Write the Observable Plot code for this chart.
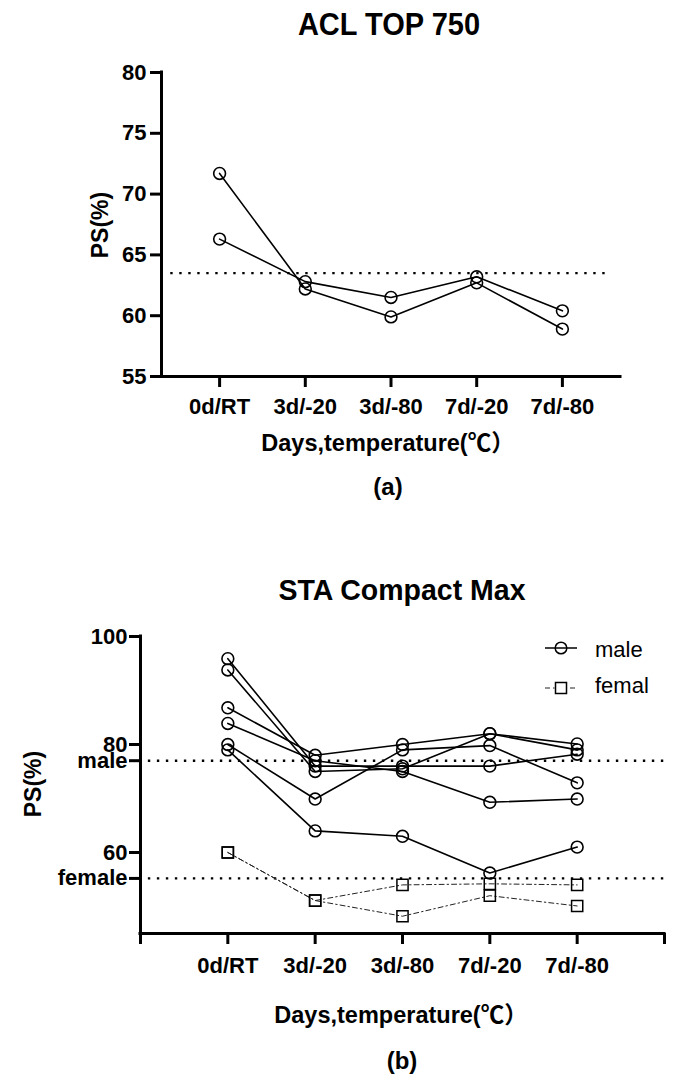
<!DOCTYPE html>
<html><head><meta charset="utf-8">
<script src="https://cdn.jsdelivr.net/npm/d3@7"></script>
<script src="https://cdn.jsdelivr.net/npm/@observablehq/plot@0.6"></script>
<style>
body{margin:0;background:#fff;}
#page{position:relative;width:685px;height:1080px;overflow:hidden;background:#fff;font-family:"Liberation Sans",Arial,"Noto Sans CJK SC",sans-serif;color:#000;}
.t{position:absolute;white-space:nowrap;line-height:1;font-weight:bold;transform:translate(-50%,-50%);}
.plot{position:absolute;left:0;}
.leg{position:absolute;white-space:nowrap;line-height:1;font-size:22px;font-weight:normal;}
</style></head><body><div id="page">
<div class="t" style="left:389px;top:25px;font-size:29px;transform:translate(-50%,-50%) scaleY(1.1)">ACL TOP 750</div>
<div id="c1" class="plot" style="top:0px"></div>
<div class="t" style="left:100px;top:225px;font-size:23px;transform:translate(-50%,-50%) rotate(-90deg)">PS(%)</div>
<div class="t" style="left:388px;top:444px;font-size:23.5px">Days,temperature(℃）</div>
<div class="t" style="left:388px;top:487px;font-size:24px">(a)</div>

<div class="t" style="left:402px;top:590px;font-size:28.5px;transform:translate(-50%,-50%) scaleY(1.05)">STA Compact Max</div>
<div id="c2" class="plot" style="top:600px"></div>
<div class="t" style="left:33px;top:784px;font-size:23px;transform:translate(-50%,-50%) rotate(-90deg)">PS(%)</div>
<div class="t" style="left:401px;top:1016px;font-size:23.5px">Days,temperature(℃）</div>
<div class="t" style="left:402px;top:1061px;font-size:24px">(b)</div>

<svg style="position:absolute;left:543px;top:638px" width="36" height="60">
  <line x1="2" x2="34" y1="10" y2="10" stroke="#000" stroke-width="1.5"/>
  <circle cx="18" cy="10" r="5.8" fill="none" stroke="#000" stroke-width="1.5"/>
  <line x1="2" x2="34" y1="50" y2="50" stroke="#222" stroke-width="1" stroke-dasharray="5,3,1.5,3"/>
  <rect x="12.5" y="44.5" width="11" height="11" fill="#fff" stroke="#000" stroke-width="1.5"/>
</svg>
<div class="leg" style="left:595px;top:639px">male</div>
<div class="leg" style="left:595px;top:675px">femal</div>
</div>
<script>
// ---------- data ----------
const categories = ["0d/RT", "3d/-20", "3d/-80", "7d/-20", "7d/-80"];

// (a) ACL TOP 750
const aclSeriesA = [71.7, 62.2, 59.9, 62.7, 58.9];
const aclSeriesB = [66.3, 62.8, 61.5, 63.2, 60.4];
const aclRef = 63.5;
const aclTicks = [55, 60, 65, 70, 75, 80];

// (b) STA Compact Max
const male1 = [95.9, 76.0, 76.0, 76.0, 78.2];
const male2 = [93.8, 75.0, 75.5, 82.0, 79.0];
const male3 = [86.8, 78.0, 80.0, 82.0, 80.1];
const male4 = [83.9, 77.0, 75.0, 69.3, 69.9];
const male5 = [80.0, 69.9, 79.0, 79.8, 72.9];
const male6 = [79.0, 64.0, 63.0, 56.2, 61.0];
const female1 = [60.0, 51.1, 54.0, 54.2, 54.0];
const female2 = [60.0, 51.1, 48.2, 52.0, 50.1];
const refLabels = ["male", "female"];
const refValues = [77.0, 55.2];
const staTicks = [100, 80, 60];

// ---------- build tables ----------
function tidy(list) {
  const out = [];
  list.forEach((vals, s) => vals.forEach((v, i) => out.push({s, i, v})));
  return out;
}
const aclData = tidy([aclSeriesA, aclSeriesB]);
const maleData = tidy([male1, male2, male3, male4, male5, male6]);
const femaleData = tidy([female1, female2]);
const idx = categories.map((_, i) => i);

const baseStyle = {
  fontFamily: "Liberation Sans, Arial, sans-serif",
  fontSize: "22px",
  fontWeight: "bold",
  color: "#000",
  background: "transparent",
  overflow: "visible"
};
const dotted = {stroke: "#000", strokeWidth: 2.4, strokeDasharray: "2.4,6.6"};
const yText = {fontSize: 22, fontWeight: "bold"};
const xText = {fontSize: 22, fontWeight: "bold"};

// ---------- chart (a) ----------
const xa0 = -0.678, xa1 = 4.678;
const chartA = Plot.plot({
  width: 685, height: 430,
  marginLeft: 161, marginRight: 65, marginTop: 72, marginBottom: 54,
  x: {domain: [xa0, xa1]},
  y: {domain: [55, 80]},
  style: baseStyle,
  marks: [
    Plot.ruleY([aclRef], {x1: -0.57, x2: 4.57, ...dotted}),
    Plot.line(aclData, {x: "i", y: "v", z: "s", stroke: "#000", strokeWidth: 1.6}),
    Plot.dot(aclData, {x: "i", y: "v", r: 5.9, stroke: "#000", strokeWidth: 1.6, fill: "none"}),
    Plot.axisY({ticks: aclTicks, tickSize: 11, tickPadding: 4, strokeWidth: 3, label: null, ...yText}),
    Plot.axisX({ticks: idx, tickFormat: i => categories[i], tickSize: 11, tickPadding: 11, strokeWidth: 3, label: null, ...xText}),
    Plot.ruleX([xa0], {y1: 55, y2: 80, stroke: "#000", strokeWidth: 3, strokeLinecap: "square"}),
    Plot.ruleY([55], {stroke: "#000", strokeWidth: 3, strokeLinecap: "square"})
  ]
});
document.getElementById("c1").appendChild(chartA);

// ---------- chart (b) ----------
const yTicksB = staTicks.concat(refValues);
const chartB = Plot.plot({
  width: 685, height: 380,
  marginLeft: 140, marginRight: 21, marginTop: 36, marginBottom: 47,
  x: {domain: [-1, 5]},
  y: {domain: [45, 100]},
  style: baseStyle,
  marks: [
    Plot.ruleY(refValues, {x1: -0.91, x2: 5, ...dotted}),
    Plot.line(femaleData, {x: "i", y: "v", z: "s", stroke: "#222", strokeWidth: 1, strokeDasharray: "5,3,1.5,3"}),
    Plot.dot(femaleData, {x: "i", y: "v", symbol: "square", r: 6.3, stroke: "#000", strokeWidth: 1.5, fill: "none"}),
    Plot.line(maleData, {x: "i", y: "v", z: "s", stroke: "#000", strokeWidth: 1.6}),
    Plot.dot(maleData, {x: "i", y: "v", r: 5.9, stroke: "#000", strokeWidth: 1.6, fill: "none"}),
    Plot.axisY({ticks: yTicksB, tickFormat: d => {const k = refValues.indexOf(d); return k >= 0 ? refLabels[k] : String(d);}, tickSize: 11, tickPadding: 2, strokeWidth: 3, label: null, ...yText}),
    Plot.axisX({ticks: [-1].concat(idx, [5]), tickFormat: i => categories[i] ?? "", tickSize: 11, tickPadding: 13, strokeWidth: 3, label: null, ...xText}),
    Plot.ruleX([-1], {y1: 45, y2: 100, stroke: "#000", strokeWidth: 3, strokeLinecap: "square"}),
    Plot.ruleY([45], {stroke: "#000", strokeWidth: 3, strokeLinecap: "square"})
  ]
});
document.getElementById("c2").appendChild(chartB);
</script>
</body></html>
